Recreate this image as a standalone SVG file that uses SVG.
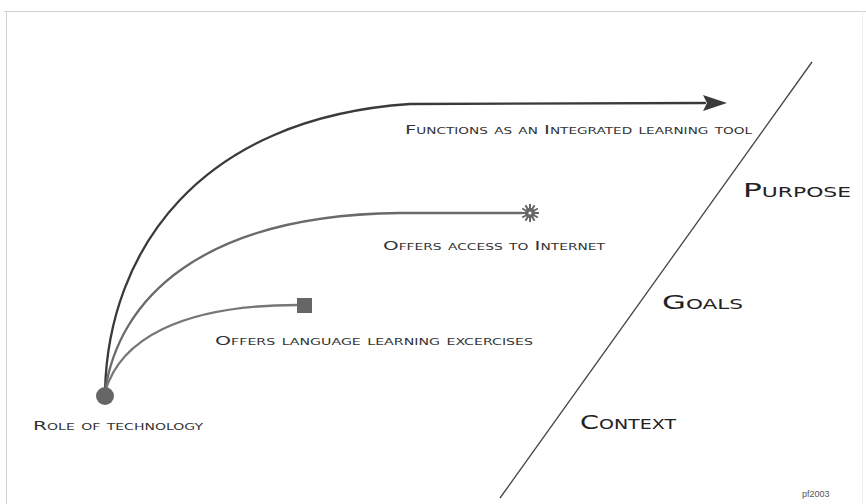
<svg xmlns="http://www.w3.org/2000/svg" width="866" height="504" viewBox="0 0 866 504">
<style>
.lbl{font-family:"DejaVu Sans","Liberation Sans",sans-serif;font-size:13px;font-variant:small-caps;fill:#333}
.big{font-family:"DejaVu Sans","Liberation Sans",sans-serif;font-size:20px;font-variant:small-caps;fill:#222}
.cur{fill:none;stroke-width:2.3;stroke-linecap:round}
.credit{font-family:"Liberation Sans",Arial,sans-serif;font-size:9px;fill:#555}
</style>
<defs>
<marker id="arrow" viewBox="0 0 24 16" refX="2" refY="8" markerWidth="24" markerHeight="16" markerUnits="userSpaceOnUse" orient="auto">
<path d="M0,0 L24,8 L0,16 L4,8 Z" fill="#3a3a3a"/>
</marker>
</defs>
<rect width="866" height="504" fill="#fff"/>
<g id="frame" fill="none">
<path d="M4,11.5 H866" stroke="#cfcfcf" stroke-width="1"/>
<path d="M6.5,11 V504" stroke="#d4d4d4" stroke-width="1"/>
<path d="M862.5,11 V504" stroke="#f0f0f0" stroke-width="1"/>
</g>
<g id="connectors">
<path class="cur" stroke="#3a3a3a" d="M105,392 C108,250 200,118 410,104 L705,103" marker-end="url(#arrow)"/>
<path class="cur" stroke="#6a6a6a" d="M105,392 C118,300 200,215 400,213 L522,213"/>
<path class="cur" stroke="#777" d="M105,392 C120,340 180,305 297,305"/>
</g>
<g id="root">
<circle cx="105" cy="396" r="9" fill="#666"/>
<text class="lbl" x="33" y="430" textLength="170" lengthAdjust="spacingAndGlyphs">Role of technology</text>
</g>
<g id="tool">
<text class="lbl" x="405" y="134" textLength="347" lengthAdjust="spacingAndGlyphs">Functions as an Integrated learning tool</text>
</g>
<g id="internet">
<g transform="translate(530,213)" stroke="#666" stroke-width="2">
<line x1="-9" y1="0" x2="9" y2="0"/>
<line x1="0" y1="-9" x2="0" y2="9"/>
<line x1="-7.8" y1="-4.5" x2="7.8" y2="4.5"/>
<line x1="-7.8" y1="4.5" x2="7.8" y2="-4.5"/>
<line x1="-4.5" y1="-7.8" x2="4.5" y2="7.8"/>
<line x1="-4.5" y1="7.8" x2="4.5" y2="-7.8"/>
<circle r="5" fill="#666" stroke="none"/>
<circle r="1.6" fill="#fff" stroke="none"/>
</g>
<text class="lbl" x="383" y="250" textLength="222" lengthAdjust="spacingAndGlyphs">Offers access to Internet</text>
</g>
<g id="exercises">
<rect x="297" y="298" width="15" height="15" fill="#666"/>
<text class="lbl" x="215" y="345" textLength="318" lengthAdjust="spacingAndGlyphs">Offers language learning excercises</text>
</g>
<g id="divider">
<line x1="812" y1="62" x2="500" y2="498" stroke="#444" stroke-width="1.3"/>
</g>
<g id="purpose"><text class="big" x="743" y="197" textLength="108" lengthAdjust="spacingAndGlyphs">Purpose</text></g>
<g id="goals"><text class="big" x="662" y="309" textLength="81" lengthAdjust="spacingAndGlyphs">Goals</text></g>
<g id="context"><text class="big" x="580" y="429" textLength="96" lengthAdjust="spacingAndGlyphs">Context</text></g>
<g id="credit"><text class="credit" x="802" y="497">pf2003</text></g>
</svg>
